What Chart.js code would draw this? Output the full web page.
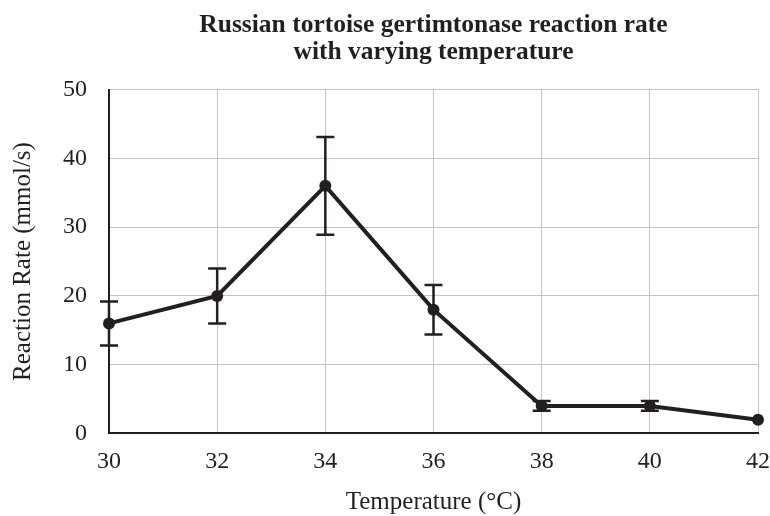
<!DOCTYPE html>
<html>
<head>
<meta charset="utf-8">
<script src="https://cdn.jsdelivr.net/npm/chart.js@4/dist/chart.umd.min.js"></script>
<style>
  html, body { margin: 0; padding: 0; background: #fff; }
  #chart { display: block; }
</style>
</head>
<body>
<canvas id="chart" width="770" height="516"></canvas>
<script>
const temperatures = [30, 32, 34, 36, 38, 40, 42];
const reactionRates = [16, 20, 36, 18, 4, 4, 2];
const rateErrors = [3.2, 4, 7.1, 3.6, 0.7, 0.7, 0];
const chartTitle = ['Russian tortoise gertimtonase reaction rate', 'with varying temperature'];

const ink = '#231f20';
const serif = "'Liberation Serif', 'DejaVu Serif', serif";

// error bars drawn from the same scales as the line
const errorBars = {
  id: 'errorBars',
  afterDatasetsDraw(chart) {
    const { ctx, scales } = chart;
    ctx.save();
    ctx.strokeStyle = ink;
    ctx.lineWidth = 2.5;
    temperatures.forEach((t, i) => {
      const err = rateErrors[i];
      if (!err) return;
      const x = scales.x.getPixelForValue(t);
      const top = scales.y.getPixelForValue(reactionRates[i] + err);
      const bottom = scales.y.getPixelForValue(reactionRates[i] - err);
      ctx.beginPath();
      ctx.moveTo(x, top);
      ctx.lineTo(x, bottom);
      ctx.moveTo(x - 9, top);
      ctx.lineTo(x + 9, top);
      ctx.moveTo(x - 9, bottom);
      ctx.lineTo(x + 9, bottom);
      ctx.stroke();
    });
    ctx.restore();
  },
};

new Chart(document.getElementById('chart'), {
  type: 'line',
  data: {
    datasets: [
      {
        data: temperatures.map((t, i) => ({ x: t, y: reactionRates[i] })),
        borderColor: ink,
        backgroundColor: ink,
        borderWidth: 4,
        pointRadius: 6,
        pointBackgroundColor: ink,
        pointBorderWidth: 0,
        tension: 0,
        clip: false,
      },
    ],
  },
  options: {
    responsive: false,
    animation: false,
    layout: { padding: { top: 12, right: 0, bottom: 0, left: 8 } },
    plugins: {
      legend: { display: false },
      tooltip: { enabled: false },
      title: {
        display: true,
        fullSize: false,
        text: chartTitle,
        color: ink,
        font: { family: serif, size: 25.5, weight: 'bold', lineHeight: 1.05 },
        padding: { top: 0, bottom: 24 },
      },
    },
    scales: {
      x: {
        type: 'linear',
        min: 30,
        max: 42,
        afterFit(scale) {
          // only leave room for half of the last label
          scale.paddingRight = 12;
        },
        ticks: { stepSize: 2, color: ink, font: { family: serif, size: 24 }, padding: 14 },
        grid: { color: '#c4c4c4', lineWidth: 1, drawTicks: false },
        border: { color: ink, width: 2 },
        title: {
          display: true,
          text: 'Temperature (°C)',
          color: ink,
          font: { family: serif, size: 25, lineHeight: 0.75 },
          padding: { top: 3, bottom: 4 },
        },
      },
      y: {
        min: 0,
        max: 50,
        ticks: { stepSize: 10, color: ink, font: { family: serif, size: 24 }, padding: 22 },
        grid: { color: '#c4c4c4', lineWidth: 1, drawTicks: false },
        border: { color: ink, width: 2 },
        title: {
          display: true,
          text: 'Reaction Rate (mmol/s)',
          color: ink,
          font: { family: serif, size: 25 },
          padding: { top: 0, bottom: 3 },
        },
      },
    },
  },
  plugins: [errorBars],
});
</script>
</body>
</html>
